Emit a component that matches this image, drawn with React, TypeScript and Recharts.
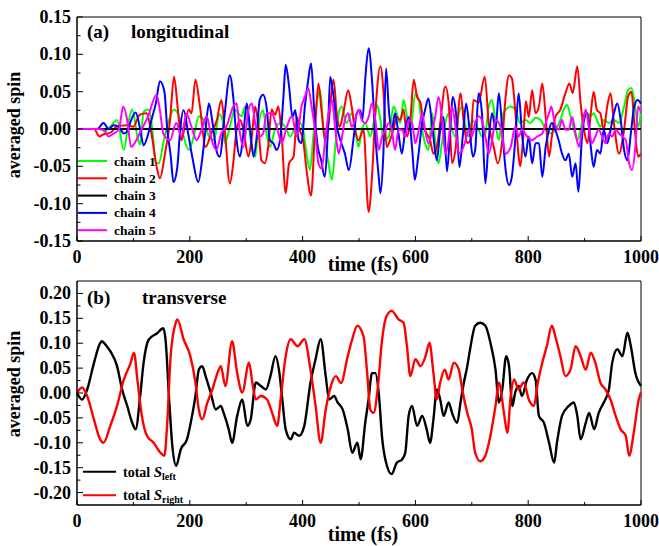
import { LineChart, Line, XAxis, YAxis, ReferenceArea } from "recharts";

const FONT = "'Liberation Serif', 'Times New Roman', serif";

const TIME_TICKS = [0, 100, 200, 300, 400, 500, 600, 700, 800, 900, 1000];
const LONG_TICKS = [-0.15, -0.125, -0.1, -0.075, -0.05, -0.025, 0, 0.025, 0.05, 0.075, 0.1, 0.125, 0.15];
const TRANS_TICKS = [-0.2, -0.175, -0.15, -0.125, -0.1, -0.075, -0.05, -0.025, 0, 0.025, 0.05, 0.075, 0.1, 0.125, 0.15, 0.175, 0.2];

// (a) longitudinal, [time fs, averaged spin]
const chain1: [number, number][] = [
  [0, 0], [40, 0], [50, -0.003], [60, 0.004], [71, 0.012], [83, -0.028], [92, 0.012], [98, 0.026], [107, -0.01], [112, -0.021],
  [118, 0.023], [127, 0.026], [133, 0.003], [140, -0.045], [145, -0.046], [154, -0.015], [163, 0.012], [172, 0.026], [181, 0.016], [189, -0.01],
  [198, -0.028], [207, -0.01], [216, 0.017], [225, 0.012], [234, -0.01], [243, -0.015], [252, 0.02], [258, 0.012], [262, -0.019], [271, 0.003],
  [280, 0.026], [286, 0.021], [292, 0.017], [298, 0.03], [304, 0.008], [310, -0.024], [316, -0.037], [321, -0.001], [330, 0.025], [336, -0.006],
  [342, -0.024], [351, -0.001], [360, 0.008], [369, 0.003], [378, -0.01], [387, 0.003], [395, 0.008], [401, -0.001], [407, -0.033], [413, -0.055],
  [419, -0.01], [425, 0.034], [431, 0.052], [437, -0.001], [446, -0.046], [452, -0.068], [458, -0.024], [464, 0.021], [469, 0.03], [478, 0.008],
  [487, 0.021], [493, 0.002], [499, -0.024], [505, -0.001], [511, 0.008], [520, -0.01], [526, 0.008], [532, 0.032], [538, 0.012], [544, -0.015],
  [553, -0.01], [561, 0.03], [567, 0.021], [573, 0.008], [579, 0.039], [585, 0.017], [591, -0.001], [600, 0.048], [606, 0.039], [612, -0.001],
  [617, -0.019], [623, -0.028], [630, 0.021], [635, -0.015], [641, -0.046], [647, -0.019], [653, 0.008], [659, 0.021], [665, -0.001], [671, -0.01],
  [677, 0.021], [683, 0.03], [689, 0.003], [695, -0.01], [700, 0.012], [706, 0.008], [712, -0.001], [718, -0.01], [724, -0.006], [730, 0.03],
  [736, 0.039], [742, 0.008], [748, -0.015], [754, 0.017], [760, 0.026], [769, 0.03], [777, 0.026], [786, 0.008], [795, 0.012], [804, 0.008],
  [813, 0.015], [822, 0.012], [831, -0.001], [840, -0.006], [848, -0.001], [857, 0.012], [863, 0.026], [869, 0.032], [875, 0.017], [881, -0.001],
  [887, -0.015], [893, -0.001], [899, 0.021], [905, 0.021], [911, 0.017], [916, 0.021], [922, 0.012], [928, 0.003], [934, 0.012], [943, 0.008],
  [952, 0.012], [961, 0.008], [970, 0.03], [977, 0.052], [983, 0.055], [989, 0.034], [995, 0.003], [1000, 0.025],
];

const chain2: [number, number][] = [
  [0, 0], [30, 0], [40, -0.01], [45, -0.008], [61, -0.004], [70, 0.003], [88, 0.005], [100, 0.003], [111, 0.019], [123, 0.021],
  [132, -0.006], [141, -0.05], [147, -0.066], [156, -0.033], [165, 0.012], [172, 0.07], [179, 0.025], [185, -0.015], [191, 0.003], [198, 0.026],
  [203, 0.021], [210, 0.066], [218, 0.03], [228, -0.024], [238, -0.006], [248, 0.012], [256, 0.039], [262, -0.001], [271, -0.073], [277, -0.046],
  [283, -0.001], [289, 0.012], [295, -0.001], [304, -0.037], [310, -0.01], [316, 0.03], [321, 0.008], [327, -0.042], [333, -0.046], [339, -0.024],
  [345, 0.026], [351, 0.019], [357, 0.03], [363, -0.01], [370, -0.086], [376, -0.046], [384, -0.037], [390, 0.016], [395, -0.001], [401, -0.015],
  [407, -0.055], [415, -0.089], [422, -0.001], [428, 0.061], [434, 0.021], [440, -0.015], [446, 0.008], [455, 0.066], [461, 0.016], [466, 0.003],
  [472, 0.021], [481, 0.052], [487, 0.03], [493, -0.001], [499, -0.015], [508, -0.001], [517, -0.111], [523, -0.064], [529, 0.021], [538, 0.084],
  [544, 0.043], [549, -0.024], [555, -0.015], [561, -0.001], [567, 0.016], [573, 0.012], [579, 0.026], [585, -0.01], [591, 0.012], [597, 0.066],
  [603, 0.043], [609, 0.035], [615, 0.003], [620, -0.006], [626, -0.015], [632, -0.033], [638, -0.024], [644, 0.008], [653, 0.057], [659, 0.035],
  [665, -0.046], [671, -0.028], [680, 0.048], [686, 0.008], [692, -0.019], [698, -0.015], [703, 0.039], [712, 0.035], [723, 0.07], [730, 0.008],
  [739, -0.024], [746, -0.046], [754, -0.015], [760, 0.043], [766, 0.072], [771, 0.068], [777, 0.025], [783, -0.037], [786, -0.05], [792, -0.001],
  [796, 0.037], [801, 0.016], [807, 0.052], [813, 0.021], [819, 0.03], [825, 0.061], [831, 0.016], [837, -0.037], [842, -0.01], [848, 0.016],
  [857, 0.026], [866, 0.048], [873, 0.061], [879, 0.048], [887, 0.084], [893, 0.034], [899, -0.001], [905, -0.019], [911, 0.021], [916, 0.05],
  [922, 0.025], [928, 0.021], [934, -0.001], [940, 0.03], [946, 0.048], [952, 0.008], [961, -0.033], [970, -0.001], [977, 0.043], [983, 0.05],
  [989, -0.001], [995, -0.037], [1000, -0.033],
];

const chain3: [number, number][] = [[0, 0], [500, 0], [1000, 0]];

const chain4: [number, number][] = [
  [0, 0], [36, 0], [47, 0.008], [56, 0], [65, 0.005], [74, 0.003], [83, -0.006], [89, -0.003], [95, 0.01], [104, 0.022],
  [112, 0], [118, -0.022], [125, -0.01], [133, 0.015], [140, 0.035], [147, 0.064], [155, 0.05], [160, 0], [166, -0.035], [171, -0.071],
  [178, -0.05], [183, 0], [189, 0.025], [198, -0.01], [205, -0.04], [215, -0.071], [222, -0.04], [228, 0], [234, 0.034], [240, 0.01],
  [247, -0.028], [253, -0.037], [262, 0.021], [271, 0.072], [277, 0.043], [283, -0.015], [289, -0.037], [295, -0.006], [301, 0.034], [307, -0.001],
  [313, -0.037], [318, -0.015], [324, 0.039], [330, 0.046], [336, 0.03], [342, -0.015], [348, -0.019], [354, -0.028], [360, -0.015], [366, 0.043],
  [370, 0.086], [376, 0.057], [382, 0.016], [387, 0.025], [393, -0.015], [398, -0.019], [404, 0.03], [410, 0.066], [415, 0.088], [421, 0.021],
  [427, -0.024], [433, -0.042], [439, -0.064], [445, -0.001], [449, 0.07], [455, 0.043], [461, 0.003], [467, -0.015], [475, -0.033], [482, -0.055],
  [490, -0.015], [496, 0.021], [502, 0.025], [506, 0.012], [511, 0.066], [517, 0.108], [523, 0.066], [529, -0.01], [535, -0.064], [538, -0.086],
  [543, -0.037], [548, 0.081], [553, 0.025], [558, -0.001], [564, 0.021], [570, -0.006], [576, -0.033], [582, -0.001], [588, 0.016], [594, -0.024],
  [599, -0.068], [605, -0.037], [612, 0.008], [617, 0.025], [623, 0.041], [630, 0.003], [638, -0.042], [644, -0.001], [650, 0.016], [656, -0.057],
  [662, 0.003], [666, 0.043], [672, 0.021], [678, -0.051], [684, -0.01], [690, 0.034], [696, -0.001], [702, -0.037], [706, -0.028], [712, 0.048],
  [718, 0.021], [724, -0.073], [730, -0.015], [736, 0.021], [742, 0], [748, 0.048], [754, -0.001], [760, -0.055], [766, -0.075], [771, -0.064],
  [777, -0.015], [783, 0.048], [789, -0.006], [795, -0.037], [801, -0.01], [807, -0.046], [813, -0.019], [819, -0.019], [825, -0.064], [831, -0.024],
  [837, -0.001], [842, 0.008], [848, -0.001], [854, -0.015], [860, -0.033], [866, -0.042], [872, -0.033], [878, -0.064], [884, -0.046], [889, -0.084],
  [895, -0.015], [899, 0.012], [905, 0.021], [911, -0.024], [916, -0.051], [922, -0.028], [928, -0.033], [934, -0.001], [940, -0.019], [946, -0.001],
  [952, 0.021], [958, 0.034], [964, 0.012], [970, -0.028], [976, -0.042], [982, -0.006], [988, 0.03], [994, 0.039], [1000, 0.034],
];

const chain5: [number, number][] = [
  [0, 0], [36, 0], [47, -0.001], [56, -0.01], [65, -0.006], [74, -0.001], [82, 0.03], [89, 0.012], [96, -0.024], [103, -0.018],
  [111, -0.006], [126, 0.017], [141, 0.046], [147, 0.025], [153, -0.006], [165, -0.015], [176, 0.008], [185, -0.01], [194, 0.02], [203, 0.003],
  [212, -0.015], [221, -0.001], [230, 0.017], [239, -0.015], [247, -0.028], [256, -0.006], [265, 0.003], [277, 0.03], [283, 0.034], [289, -0.006],
  [295, -0.024], [304, 0.026], [310, 0.034], [317, 0.003], [324, -0.01], [330, -0.006], [336, 0.021], [345, 0.021], [354, 0.003], [363, -0.019],
  [372, 0.003], [381, 0.017], [390, -0.01], [398, 0.03], [404, 0.043], [410, 0.055], [416, 0.03], [422, -0.001], [428, -0.046], [434, -0.053],
  [440, -0.015], [446, 0.021], [452, 0.039], [458, -0.001], [464, -0.033], [469, -0.015], [475, 0.012], [481, 0.021], [487, 0.003], [493, 0.012],
  [499, 0.026], [505, 0.012], [511, 0.008], [517, 0.016], [523, 0.034], [529, 0.012], [535, -0.028], [541, -0.01], [547, -0.001], [553, 0.008],
  [558, -0.001], [564, -0.028], [570, -0.001], [576, -0.001], [582, -0.01], [588, 0.012], [594, 0.008], [600, -0.019], [606, -0.001], [612, 0.021],
  [617, -0.001], [623, -0.019], [630, -0.001], [635, 0.016], [641, 0.043], [647, 0.016], [653, -0.033], [659, -0.015], [665, 0.03], [671, 0.003],
  [677, -0.033], [683, -0.028], [689, -0.015], [695, -0.001], [700, -0.01], [706, 0.008], [712, 0.017], [718, 0.012], [724, -0.01], [730, -0.033],
  [736, -0.015], [742, 0.012], [751, 0.003], [760, -0.033], [769, -0.024], [777, 0.003], [783, -0.01], [789, -0.001], [798, -0.01], [807, -0.015],
  [816, -0.01], [825, -0.006], [831, 0.008], [837, 0.021], [841, 0.03], [847, 0.008], [854, -0.001], [860, 0.012], [866, -0.001], [872, -0.001],
  [878, 0.016], [884, -0.006], [890, -0.024], [896, 0.003], [902, 0.026], [908, -0.001], [913, -0.019], [919, -0.01], [925, -0.001], [931, -0.01],
  [937, -0.019], [943, -0.006], [949, -0.01], [955, -0.001], [961, -0.006], [967, -0.01], [973, -0.015], [979, -0.046], [984, -0.055], [990, -0.024],
  [995, 0.03], [1000, 0.021],
];

// (b) transverse, [time fs, averaged spin]
const sLeft: [number, number][] = [
  [0, 0], [9, -0.013], [18, 0.007], [30, 0.06], [41, 0.1], [44, 0.104], [52, 0.095], [59, 0.084], [71, 0.054], [80, 0.007],
  [89, -0.026], [98, -0.06], [104, -0.073], [112, -0.006], [118, 0.06], [127, 0.107], [142, 0.12], [153, 0.13], [157, 0.107], [163, -0.006],
  [169, -0.106], [176, -0.146], [184, -0.113], [195, -0.093], [204, -0.046], [210, -0.006], [216, 0.047], [222, 0.054], [228, 0.034], [237, 0.001],
  [246, -0.033], [255, -0.026], [260, -0.04], [269, -0.073], [275, -0.1], [284, -0.046], [293, -0.013], [302, -0.066], [308, -0.053], [317, 0.021],
  [326, 0.014], [335, 0.007], [343, 0.034], [352, 0.074], [358, 0.047], [364, -0.013], [370, -0.073], [379, -0.093], [385, -0.08], [394, -0.086],
  [403, -0.066], [414, 0.021], [423, 0.068], [432, 0.108], [441, 0.034], [447, -0.013], [456, -0.006], [462, -0.019], [471, -0.033], [480, -0.073],
  [488, -0.12], [497, -0.1], [503, -0.133], [511, -0.06], [517, -0.013], [523, 0.04], [529, 0.04], [535, 0], [541, -0.09], [547, -0.135],
  [558, -0.163], [567, -0.14], [576, -0.134], [582, -0.12], [588, -0.046], [594, -0.026], [603, -0.066], [612, -0.046], [620, -0.073], [626, -0.1],
  [632, -0.053], [638, 0.007], [644, -0.013], [650, -0.046], [659, -0.019], [665, -0.04], [674, -0.06], [680, -0.019], [686, 0.021], [692, 0.054],
  [697, 0.088], [706, 0.135], [715, 0.141], [724, 0.135], [733, 0.101], [742, 0.047], [748, -0.019], [754, 0.007], [761, 0.074], [766, 0.054],
  [772, -0.026], [777, 0.001], [783, 0.014], [789, -0.006], [798, 0.027], [807, 0.04], [813, 0.027], [819, -0.046], [828, -0.06], [837, -0.1],
  [846, -0.14], [851, -0.1], [860, -0.046], [872, -0.026], [881, -0.019], [887, -0.046], [893, -0.093], [902, -0.06], [908, -0.04], [917, -0.073],
  [925, -0.04], [934, -0.019], [943, 0.007], [949, 0.061], [958, 0.088], [967, 0.074], [976, 0.121], [982, 0.094], [990, 0.04], [1000, 0.014],
];

const sRight: [number, number][] = [
  [0, 0], [9, 0.011], [18, -0.006], [30, -0.053], [41, -0.093], [47, -0.1], [59, -0.066], [71, -0.026], [83, 0.027], [95, 0.06],
  [101, 0.081], [107, 0.027], [115, -0.046], [124, -0.086], [136, -0.1], [148, -0.12], [155, -0.126], [160, -0.06], [166, 0.074], [175, 0.141],
  [178, 0.148], [189, 0.108], [201, 0.074], [210, 0.021], [216, -0.033], [222, -0.053], [231, -0.02], [240, 0.007], [249, 0.04], [255, 0.054],
  [263, 0.014], [275, 0.104], [284, 0.04], [293, 0.001], [305, 0.061], [311, 0.02], [317, -0.013], [326, -0.006], [337, -0.013], [346, -0.04],
  [355, -0.066], [361, -0.013], [370, 0.074], [379, 0.108], [391, 0.094], [403, 0.108], [414, 0.047], [423, -0.026], [432, -0.1], [441, -0.033],
  [450, 0.014], [459, 0.034], [468, 0.02], [480, 0.074], [488, 0.108], [497, 0.135], [508, 0.114], [514, 0.047], [520, -0.033], [526, -0.04],
  [533, 0.007], [541, 0.108], [549, 0.155], [558, 0.165], [570, 0.148], [579, 0.141], [585, 0.094], [591, 0.034], [600, 0.068], [609, 0.054],
  [618, 0.074], [625, 0.101], [632, 0.04], [638, -0.013], [644, 0.021], [652, 0.047], [659, 0.027], [668, 0.061], [677, 0.047], [683, 0.007],
  [692, -0.04], [700, -0.073], [706, -0.12], [715, -0.137], [724, -0.126], [733, -0.086], [742, -0.026], [748, 0.021], [757, -0.04], [763, -0.08],
  [769, -0.006], [775, 0.027], [783, 0.007], [792, 0.021], [801, -0.013], [810, -0.026], [817, 0.02], [825, 0.061], [833, 0.094], [842, 0.135],
  [848, 0.114], [857, 0.074], [866, 0.034], [875, 0.047], [884, 0.094], [893, 0.074], [902, 0.047], [911, 0.081], [919, 0.061], [928, 0.021],
  [937, 0.007], [946, -0.013], [955, -0.046], [964, -0.073], [973, -0.086], [979, -0.126], [988, -0.073], [996, -0.013], [1000, 0.001],
];

const CHAINS = [
  { name: "chain 1", color: "#00ff00", data: chain1 },
  { name: "chain 2", color: "#ff0000", data: chain2 },
  { name: "chain 3", color: "#000000", data: chain3 },
  { name: "chain 4", color: "#0000ff", data: chain4 },
  { name: "chain 5", color: "#ff00ff", data: chain5 },
];

const TOTALS = [
  { sub: "left", color: "#000000", data: sLeft },
  { sub: "right", color: "#ff0000", data: sRight },
];

const toPoints = (arr: [number, number][]) => arr.map(([t, v]) => ({ t, v }));

const PLOT_LEFT = 77;

const xTick = (bottom: number) => (props: any) => {
  const { x, payload } = props;
  const val = payload.value;
  const major = val % 200 === 0;
  return (
    <g>
      <line x1={x} x2={x} y1={bottom} y2={bottom - (major ? 5 : 3)} stroke="#000" />
      {major && (
        <text x={x} y={bottom + 22} textAnchor="middle" fontFamily={FONT} fontWeight="bold" fontSize={18} fill="#000">
          {val}
        </text>
      )}
    </g>
  );
};

const yTick = (props: any) => {
  const { y, payload } = props;
  const val = payload.value;
  const major = Math.abs(val / 0.05 - Math.round(val / 0.05)) < 1e-6;
  return (
    <g>
      <line x1={PLOT_LEFT} x2={PLOT_LEFT + (major ? 6 : 3.5)} y1={y} y2={y} stroke="#000" />
      {major && (
        <text x={71} y={y + 6} textAnchor="end" fontFamily={FONT} fontWeight="bold" fontSize={18} fill="#000">
          {val.toFixed(2)}
        </text>
      )}
    </g>
  );
};

const bold = { fontFamily: FONT, fontWeight: "bold" as const, fill: "#000" };

export default function App() {
  return (
    <div style={{ position: "absolute", left: 0, top: 0, width: 659, height: 546, background: "#fff" }}>
      <div style={{ position: "absolute", left: 0, top: 0 }}>
        <LineChart width={659} height={280} margin={{ top: 17, right: 18, bottom: 0, left: 0 }}>
          <XAxis
            type="number"
            dataKey="t"
            domain={[0, 1000]}
            ticks={TIME_TICKS}
            interval={0}
            height={39}
            tickLine={false}
            axisLine={{ stroke: "#000" }}
            tick={xTick(241)}
          />
          <YAxis
            type="number"
            domain={[-0.15, 0.15]}
            ticks={LONG_TICKS}
            interval={0}
            width={77}
            tickLine={false}
            axisLine={{ stroke: "#000" }}
            tick={yTick}
          />
          <ReferenceArea x1={0} x2={1000} y1={-0.15} y2={0.15} fill="none" stroke="#000" ifOverflow="visible" />
          {CHAINS.map((c) => (
            <Line
              key={c.name}
              data={toPoints(c.data)}
              dataKey="v"
              type="monotone"
              stroke={c.color}
              strokeWidth={2}
              dot={false}
              isAnimationActive={false}
            />
          ))}
        </LineChart>
      </div>
      <div style={{ position: "absolute", left: 0, top: 270 }}>
        <LineChart width={659} height={276} margin={{ top: 11, right: 18, bottom: 0, left: 0 }}>
          <XAxis
            type="number"
            dataKey="t"
            domain={[0, 1000]}
            ticks={TIME_TICKS}
            interval={0}
            height={41}
            tickLine={false}
            axisLine={{ stroke: "#000" }}
            tick={xTick(235)}
          />
          <YAxis
            type="number"
            domain={[-0.225, 0.225]}
            ticks={TRANS_TICKS}
            interval={0}
            width={77}
            tickLine={false}
            axisLine={{ stroke: "#000" }}
            tick={yTick}
          />
          <ReferenceArea x1={0} x2={1000} y1={-0.225} y2={0.225} fill="none" stroke="#000" ifOverflow="visible" />
          {TOTALS.map((s) => (
            <Line
              key={s.sub}
              data={toPoints(s.data)}
              dataKey="v"
              type="monotone"
              stroke={s.color}
              strokeWidth={2.4}
              dot={false}
              isAnimationActive={false}
            />
          ))}
        </LineChart>
      </div>
      <svg width={659} height={546} style={{ position: "absolute", left: 0, top: 0, pointerEvents: "none" }}>
        <text x={87} y={38} fontSize={19} {...bold}>(a)</text>
        <text x={131} y={38} fontSize={19} {...bold}>longitudinal</text>
        <text x={87} y={304} fontSize={19} {...bold}>(b)</text>
        <text x={142} y={304} fontSize={19} {...bold}>transverse</text>

        <text x={363} y={271} fontSize={20} textAnchor="middle" {...bold}>time (fs)</text>
        <text x={363} y={541} fontSize={20} textAnchor="middle" {...bold}>time (fs)</text>

        <text x={20} y={125} fontSize={18} textAnchor="middle" transform="rotate(-90 20 125)" {...bold}>averaged spin</text>
        <text x={20} y={384} fontSize={18} textAnchor="middle" transform="rotate(-90 20 384)" {...bold}>averaged spin</text>

        {CHAINS.map((c, i) => {
          const y = 161 + i * 17.3;
          return (
            <g key={c.name}>
              <line x1={78} x2={107} y1={y} y2={y} stroke={c.color} strokeWidth={2} />
              <text x={114} y={y + 4.5} fontSize={13.5} {...bold}>{c.name}</text>
            </g>
          );
        })}

        {TOTALS.map((s, i) => {
          const y = 471.7 + i * 23.6;
          return (
            <g key={s.sub}>
              <line x1={83} x2={116} y1={y} y2={y} stroke={s.color} strokeWidth={2} />
              <text x={123} y={y + 5} fontSize={14} {...bold}>
                total <tspan fontStyle="italic" fontSize={15}>S</tspan>
                <tspan fontSize={10} dy={3}>{s.sub}</tspan>
              </text>
            </g>
          );
        })}
      </svg>
    </div>
  );
}
